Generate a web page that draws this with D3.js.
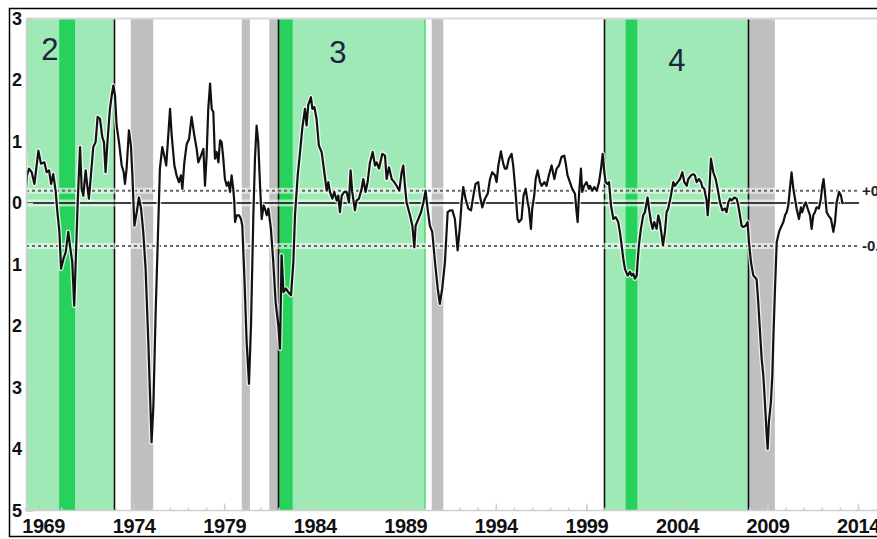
<!DOCTYPE html>
<html>
<head>
<meta charset="utf-8">
<script src="https://cdn.jsdelivr.net/npm/d3@7"></script>
<style>
  html, body { margin: 0; padding: 0; background: #fff; }
  svg { display: block; }
  text { font-family: "Liberation Sans", Arial, sans-serif; }
</style>
</head>
<body>
<svg id="chart" width="877" height="539"></svg>
<script>
// ---------------- DATA ----------------
// decimal-year dates and index values (3-month average)
const dates = [
  1968.00,1968.05,1968.11,1968.22,1968.37,1968.52,1968.74,1968.88,1969.07,1969.20,1969.33,1969.44,1969.56,1969.69,1969.79,1969.90,1969.99,
  1970.12,1970.25,1970.39,1970.48,1970.61,1970.72,1970.80,1970.91,1971.04,1971.13,1971.22,1971.35,1971.44,1971.53,1971.64,1971.77,1971.90,
  1972.01,1972.14,1972.27,1972.36,1972.45,1972.56,1972.69,1972.79,1972.88,1972.97,1973.06,1973.19,1973.34,1973.45,1973.52,1973.61,1973.74,
  1973.85,1973.93,1974.04,1974.17,1974.29,1974.41,1974.53,1974.66,1974.81,1974.90,1974.99,1975.09,1975.22,1975.33,1975.45,1975.58,1975.69,
  1975.80,1976.01,1976.10,1976.25,1976.37,1976.50,1976.61,1976.69,1976.80,1976.93,1977.06,1977.20,1977.35,1977.48,1977.57,1977.72,1977.85,
  1977.94,1978.03,1978.12,1978.22,1978.31,1978.40,1978.49,1978.58,1978.68,1978.77,1978.86,1978.95,1979.04,1979.14,1979.23,1979.32,1979.41,
  1979.50,1979.56,1979.60,1979.69,1979.82,1979.93,1980.00,1980.11,1980.24,1980.37,1980.48,1980.61,1980.70,1980.79,1980.88,1980.98,1981.07,
  1981.18,1981.25,1981.35,1981.44,1981.58,1981.71,1981.84,1981.99,1982.08,1982.17,1982.27,1982.40,1982.54,1982.69,1982.82,1982.91,1983.06,
  1983.19,1983.31,1983.46,1983.55,1983.64,1983.79,1983.87,1983.98,1984.10,1984.23,1984.38,1984.53,1984.66,1984.75,1984.84,1984.97,1985.08,
  1985.21,1985.30,1985.39,1985.49,1985.63,1985.76,1985.89,1985.98,1986.07,1986.22,1986.31,1986.44,1986.59,1986.68,1986.81,1986.92,1987.05,
  1987.20,1987.33,1987.42,1987.55,1987.73,1987.88,1987.97,1988.10,1988.25,1988.39,1988.52,1988.67,1988.80,1988.89,1988.98,1989.07,1989.26,
  1989.39,1989.50,1989.57,1989.72,1989.87,1990.00,1990.12,1990.23,1990.36,1990.49,1990.64,1990.79,1990.91,1991.04,1991.19,1991.34,1991.47,
  1991.60,1991.74,1991.89,1992.02,1992.11,1992.20,1992.33,1992.48,1992.63,1992.76,1992.88,1993.03,1993.12,1993.25,1993.40,1993.55,1993.68,
  1993.80,1993.95,1994.04,1994.14,1994.28,1994.41,1994.50,1994.60,1994.72,1994.87,1994.96,1995.06,1995.20,1995.28,1995.42,1995.53,1995.65,
  1995.76,1995.83,1995.94,1996.01,1996.12,1996.20,1996.31,1996.44,1996.53,1996.68,1996.80,1996.93,1997.08,1997.23,1997.36,1997.49,1997.63,
  1997.78,1997.85,1997.96,1998.09,1998.22,1998.37,1998.46,1998.52,1998.59,1998.70,1998.77,1998.88,1999.01,1999.14,1999.20,1999.33,1999.44,
  1999.57,1999.70,1999.81,1999.90,1999.99,2000.06,2000.17,2000.25,2000.36,2000.49,2000.62,2000.76,2000.85,2000.95,2001.04,2001.13,2001.28,
  2001.41,2001.50,2001.59,2001.68,2001.78,2001.83,2001.90,2002.01,2002.14,2002.23,2002.38,2002.46,2002.57,2002.66,2002.75,2002.88,2002.97,
  2003.06,2003.16,2003.23,2003.34,2003.43,2003.52,2003.67,2003.80,2003.89,2004.04,2004.17,2004.30,2004.41,2004.54,2004.63,2004.78,2004.90,
  2004.99,2005.09,2005.22,2005.33,2005.40,2005.51,2005.64,2005.70,2005.77,2005.88,2006.01,2006.14,2006.25,2006.38,2006.51,2006.65,2006.74,
  2006.84,2006.93,2007.02,2007.17,2007.30,2007.39,2007.48,2007.57,2007.67,2007.79,2007.90,2007.98,2008.09,2008.22,2008.40,2008.49,2008.59,
  2008.68,2008.77,2008.86,2008.95,2009.01,2009.08,2009.19,2009.27,2009.32,2009.41,2009.51,2009.64,2009.75,2009.88,2009.97,2010.06,2010.15,
  2010.24,2010.33,2010.43,2010.52,2010.61,2010.74,2010.85,2010.92,2011.03,2011.11,2011.22,2011.35,2011.44,2011.53,2011.62,2011.71,2011.84,
  2011.95,2012.03,2012.10,2012.17,2012.27,2012.36,2012.51,2012.64,2012.73,2012.82,2012.95,2013.06,2013.13,2013.20
];
const values = [
  0.85,0.22,0.45,0.56,0.50,0.31,0.85,0.64,0.66,0.50,0.53,0.31,0.47,0.20,-0.15,-0.47,-1.07,
  -0.91,-0.80,-0.47,-0.69,-0.96,-1.67,-0.96,0.01,0.91,0.23,0.12,0.53,0.28,0.07,0.45,0.91,0.99,
  1.40,1.37,1.07,0.99,0.50,1.02,1.53,1.75,1.91,1.75,1.26,0.99,0.61,0.50,0.31,0.56,1.18,
  0.93,0.45,-0.37,-0.15,0.09,-0.09,-0.47,-1.07,-2.26,-3.08,-3.89,-3.29,-1.72,-0.64,0.56,0.91,0.77,
  0.61,1.53,1.10,0.61,0.45,0.34,0.45,0.23,0.66,0.96,1.04,1.40,1.10,0.88,0.66,0.77,0.88,
  0.28,0.77,1.53,1.94,1.53,1.48,0.72,0.83,0.66,1.02,0.99,0.72,0.39,0.28,0.34,0.18,0.45,
  0.23,0.01,-0.31,-0.20,-0.20,-0.26,-0.37,-1.18,-2.26,-2.94,-1.99,-0.20,0.72,1.26,0.99,0.28,-0.26,
  -0.04,-0.09,-0.20,-0.09,-0.42,-0.96,-1.61,-1.99,-2.37,-0.85,-1.45,-1.39,-1.45,-1.50,-0.96,-0.20,0.45,
  0.83,1.21,1.53,1.26,1.59,1.72,1.53,1.56,1.37,0.93,0.83,0.50,0.20,0.34,0.18,0.07,0.18,
  0.04,0.12,-0.15,0.12,0.18,0.18,0.01,0.53,0.18,-0.12,0.04,0.07,0.23,0.39,0.18,0.34,0.66,
  0.83,0.61,0.66,0.56,0.80,0.77,0.39,0.58,0.39,0.34,0.28,0.20,0.50,0.61,0.28,0.01,-0.20,
  -0.37,-0.72,-0.37,-0.26,-0.15,0.01,0.20,-0.09,-0.37,-0.47,-0.96,-1.39,-1.64,-1.39,-0.96,-0.15,-0.12,
  -0.12,-0.26,-0.77,-0.37,0.01,0.26,0.07,-0.09,-0.12,0.12,0.31,0.34,0.12,-0.07,0.07,0.15,0.39,
  0.50,0.45,0.34,0.61,0.84,0.64,0.56,0.56,0.72,0.80,0.61,0.28,-0.26,-0.31,-0.26,0.12,0.23,
  0.01,-0.09,-0.42,-0.09,0.12,0.39,0.53,0.34,0.28,0.34,0.28,0.45,0.61,0.39,0.56,0.61,0.75,
  0.77,0.66,0.45,0.34,0.23,0.15,-0.15,-0.31,0.12,0.56,0.18,0.28,0.34,0.23,0.28,0.20,0.26,
  0.20,0.34,0.56,0.80,0.50,0.34,0.31,0.34,-0.04,-0.26,-0.23,-0.31,-0.47,-0.69,-0.91,-1.07,-1.18,
  -1.12,-1.18,-1.15,-1.23,-1.18,-0.96,-0.69,-0.42,-0.20,-0.15,0.09,-0.09,-0.31,-0.42,-0.31,-0.42,-0.20,
  -0.31,-0.53,-0.69,-0.47,-0.15,-0.09,0.12,0.34,0.28,0.34,0.39,0.50,0.34,0.28,0.39,0.45,0.47,
  0.45,0.34,0.39,0.34,0.26,0.23,0.04,-0.20,0.07,0.72,0.50,0.39,0.23,0.01,-0.12,-0.09,-0.15,
  0.01,0.07,0.04,0.09,0.07,-0.04,-0.20,-0.37,-0.39,-0.37,-0.31,-0.64,-0.96,-1.18,-1.24,-1.61,-2.10,
  -2.53,-2.80,-3.24,-3.73,-4.00,-3.56,-3.24,-2.80,-2.26,-1.45,-0.64,-0.47,-0.39,-0.31,-0.20,-0.15,-0.04,
  0.23,0.50,0.23,0.07,-0.09,-0.26,-0.07,-0.15,-0.04,0.01,-0.09,-0.20,-0.42,-0.20,-0.15,-0.07,-0.09,
  0.07,0.28,0.39,0.18,-0.15,-0.20,-0.26,-0.47,-0.31,0.01,0.18,0.12,0.01,-0.01
];

// expansion periods (light green) with their labels
const periodStarts = [1968.08, 1981.99, 2000.00];
const periodEnds   = [1972.91, 1990.09, 2007.94];
const periodNames  = ["2", "3", "4"];
const periodLabelYears = [1969.38, 1985.28, 2004.00];
const periodLabelValues = [2.33, 2.27, 2.15];
// recessions inside periods (dark green)
const innerRecStarts = [1969.89, 1982.00, 2001.17];
const innerRecEnds   = [1970.76, 1982.78, 2001.81];
// other recessions (grey)
const recStarts = [1973.84, 1979.97, 1981.49, 1990.46, 2007.94];
const recEnds   = [1975.08, 1980.42, 1981.99, 1991.10, 2009.41];
// period boundary markers (black vertical lines)
const boundaryYears = [1972.91, 1981.99, 2000.00, 2007.94];
// threshold lines
const thresholds = [0.2, -0.7];
const thresholdLabels = ["+0.2", "-0.7"];
// ticks
const xTickYears = [1969, 1974, 1979, 1984, 1989, 1994, 1999, 2004, 2009, 2014];
const xMinorYears = d3.range(1968, 2015);
const yTickValues = [3, 2, 1, 0, -1, -2, -3, -4, -5];
const yTickLabels = ["3", "2", "1", "0", "1", "2", "3", "4", "5"];

// ---------------- LAYOUT ----------------
const svg = d3.select("#chart");
const plotLeft = 26, plotTop = 18.5, plotBottom = 510.5, lineRight = 859;
const x = d3.scaleLinear().domain([1968, 2014]).range([25, 858]);
const y = d3.scaleLinear().domain([3, -5]).range([plotTop, plotBottom]);

svg.append("rect").attr("width", 877).attr("height", 539).attr("fill", "#fff");

svg.append("defs").append("clipPath").attr("id", "plotclip")
  .append("rect").attr("x", plotLeft).attr("y", plotTop)
  .attr("width", 877 - plotLeft).attr("height", plotBottom - plotTop);

const bands = svg.append("g").attr("clip-path", "url(#plotclip)");
const bandRect = (a, b, fill) => bands.append("rect")
  .attr("x", Math.max(x(a), plotLeft)).attr("y", plotTop)
  .attr("width", x(b) - Math.max(x(a), plotLeft)).attr("height", plotBottom - plotTop)
  .attr("fill", fill);

periodStarts.forEach((s, i) => bandRect(s, periodEnds[i], "#9ee9b5"));
innerRecStarts.forEach((s, i) => bandRect(s, innerRecEnds[i], "#26d25b"));
recStarts.forEach((s, i) => bandRect(s, recEnds[i], "#bfbfbf"));

// thin bright green edge at end of period 3
bands.append("line")
  .attr("x1", x(periodEnds[1])).attr("x2", x(periodEnds[1]))
  .attr("y1", plotTop).attr("y2", plotBottom)
  .attr("stroke", "#2fd35a").attr("stroke-width", 1.2);

// boundary lines
boundaryYears.forEach(b => {
  bands.append("line")
    .attr("x1", Math.round(x(b)) + 0.5).attr("x2", Math.round(x(b)) + 0.5)
    .attr("y1", plotTop).attr("y2", plotBottom)
    .attr("stroke", "#111").attr("stroke-width", 1.6);
});

// period labels
periodNames.forEach((n, i) => {
  svg.append("text")
    .attr("x", x(periodLabelYears[i])).attr("y", y(periodLabelValues[i]))
    .attr("text-anchor", "middle")
    .attr("font-size", 31).attr("fill", "#1b2440")
    .text(n);
});

// top border of plot
svg.append("line").attr("x1", plotLeft).attr("x2", 877)
  .attr("y1", plotTop).attr("y2", plotTop)
  .attr("stroke", "#d9d9d9").attr("stroke-width", 2);

// threshold lines with halo
thresholds.forEach((t, i) => {
  svg.append("line").attr("x1", plotLeft).attr("x2", lineRight - 1)
    .attr("y1", y(t)).attr("y2", y(t))
    .attr("stroke", "#fff").attr("stroke-opacity", 0.55).attr("stroke-width", 6);
  svg.append("line").attr("x1", plotLeft).attr("x2", lineRight - 1)
    .attr("y1", y(t)).attr("y2", y(t))
    .attr("stroke", "#666").attr("stroke-width", 2).attr("stroke-dasharray", "3,3");
  svg.append("text")
    .attr("x", 862).attr("y", y(t)).attr("dy", "0.36em")
    .attr("font-size", 15).attr("font-weight", "bold").attr("fill", "#222")
    .text(thresholdLabels[i]);
});

// zero line
svg.append("line").attr("x1", plotLeft).attr("x2", lineRight)
  .attr("y1", y(0)).attr("y2", y(0))
  .attr("stroke", "#fff").attr("stroke-opacity", 0.55).attr("stroke-width", 7);
svg.append("line").attr("x1", plotLeft).attr("x2", lineRight)
  .attr("y1", y(0)).attr("y2", y(0))
  .attr("stroke", "#000").attr("stroke-width", 1.6);

// series line with white halo
const series = d3.zip(dates, values);
const line = d3.line().x(d => x(d[0])).y(d => y(d[1]));
const lg = svg.append("g").attr("clip-path", "url(#plotclip)");
lg.append("path").datum(series).attr("d", line)
  .attr("fill", "none").attr("stroke", "#fff").attr("stroke-opacity", 0.75)
  .attr("stroke-width", 4.8).attr("stroke-linejoin", "round");
lg.append("path").datum(series).attr("d", line)
  .attr("fill", "none").attr("stroke", "#111")
  .attr("stroke-width", 2.2).attr("stroke-linejoin", "round");

// axes
const axisColor = "#cfcfcf";
const yAxis = svg.append("g").attr("transform", `translate(${plotLeft},0)`)
  .call(d3.axisLeft(y).tickValues(yTickValues).tickSize(-7).tickPadding(4)
    .tickFormat((d, i) => yTickLabels[i]));
yAxis.select(".domain").attr("stroke", axisColor).attr("stroke-width", 1.5);
yAxis.selectAll(".tick line").attr("stroke", axisColor).attr("stroke-width", 1.5);
yAxis.selectAll("text").attr("font-size", 18).attr("font-weight", "bold")
  .attr("fill", "#111").attr("font-family", "'Liberation Sans', Arial, sans-serif");

const xMinor = svg.append("g").attr("transform", `translate(0,${plotBottom})`)
  .call(d3.axisBottom(x).tickValues(xMinorYears).tickSize(-3).tickFormat(""));
xMinor.select(".domain").remove();
xMinor.selectAll(".tick line").attr("stroke", axisColor).attr("stroke-width", 1.5);

const xAxis = svg.append("g").attr("transform", `translate(0,${plotBottom})`)
  .call(d3.axisBottom(x).tickValues(xTickYears).tickSize(-7).tickPadding(8)
    .tickFormat(d3.format("d")));
xAxis.select(".domain").attr("d", `M${plotLeft},0H877`)
  .attr("stroke", axisColor).attr("stroke-width", 1.5);
xAxis.selectAll(".tick line").attr("stroke", axisColor).attr("stroke-width", 1.5);
xAxis.selectAll("text").attr("font-size", 20).attr("font-weight", "bold")
  .attr("letter-spacing", "-0.4px")
  .attr("fill", "#111").attr("font-family", "'Liberation Sans', Arial, sans-serif");

// outer frame
svg.append("rect").attr("x", 9.5).attr("y", 8.5).attr("width", 900).attr("height", 528)
  .attr("fill", "none").attr("stroke", "#000").attr("stroke-width", 1.5);
</script>
</body>
</html>
